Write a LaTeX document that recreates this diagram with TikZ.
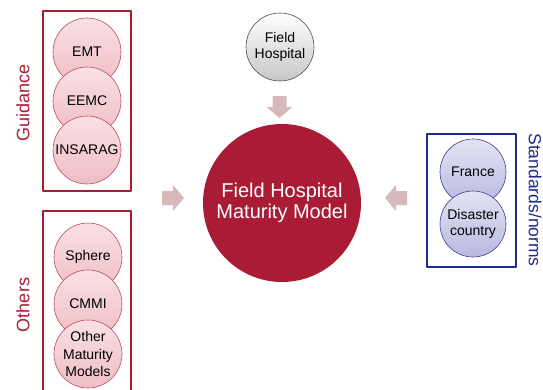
\documentclass[tikz,border=0pt]{standalone}
\usepackage{fontspec}
\setmainfont{Liberation Sans}
\definecolor{crimson}{HTML}{AA1C35}
\definecolor{rosefill}{HTML}{F9E1E4}
\definecolor{rosedark}{HTML}{EFBDC5}
\definecolor{roseline}{HTML}{C2475B}
\definecolor{navy}{HTML}{1E2A8E}
\definecolor{lilac}{HTML}{E3E3F4}
\definecolor{lilacdark}{HTML}{B9B9E0}
\definecolor{lilacline}{HTML}{3B3F8E}
\definecolor{arrowpink}{HTML}{D7B9BC}
\begin{document}
\begin{tikzpicture}[x=1pt,y=-1pt,line join=round]
	\clip (0,0) rectangle (543,389);
	
	\tikzset{
		bubble/.style={circle,draw=roseline,line width=.6pt,top color=rosefill,bottom color=rosedark,
			minimum size=68pt,inner sep=0pt,align=center,font=\fontsize{14}{16.5}\selectfont},
		bluebubble/.style={bubble,draw=lilacline,top color=lilac,bottom color=lilacdark,minimum size=66pt},
		groupbox/.style={draw=crimson,line width=1.2pt},
		grouplabel/.style={text=crimson,inner sep=0pt,font=\fontsize{18}{20}\selectfont},
		fatarrow/.pic={
			%------------mui ten (points to +x)
			\fill[arrowpink] (-11,-7) -- (0,-7) -- (0,-13) -- (11,0) -- (0,13) -- (0,7) -- (-11,7) -- cycle;
		}
	}
	
	%------------centre
	\node[circle,fill=crimson,minimum size=158pt,inner sep=0pt,align=center,text=white,
		font=\fontsize{20}{21}\selectfont] (fhmm) at (282,203) {Field Hospital\\Maturity Model};
	\node[circle,draw=black!70,line width=.6pt,top color=white,bottom color=black!22,minimum size=68pt,
		inner sep=0pt,align=center,font=\fontsize{14}{16}\selectfont] (fh) at (280,47) {Field\\Hospital};
	
	%------------Guidance
	\draw[groupbox] (43,11) rectangle (131,191);
	\node[grouplabel,rotate=90] (guid) at (23,103) {Guidance};
	\node[bubble] (emt) at (87,52) {EMT};
	\node[bubble] (eemc) at (87,101) {EEMC};
	\node[bubble] (insarag) at (87,150) {INSARAG};
	
	%------------Others
	\draw[groupbox] (43,211) rectangle (131,400);
	\node[grouplabel,rotate=90] (oth) at (23,305) {Others};
	\node[bubble] (sphere) at (88,257) {Sphere};
	\node[bubble] (cmmi) at (88,304) {CMMI};
	\node[bubble,font=\fontsize{14}{17.5}\selectfont] (omm) at (88,354) {Other\\Maturity\\Models};
	
	%------------Standards/norms
	\draw[draw=navy,line width=1.2pt] (427,134) rectangle (516,267);
	\node[text=navy,inner sep=0pt,font=\fontsize{17.5}{20}\selectfont,rotate=-90] (std) at (535,200) {Standards/norms};
	\node[bluebubble] (fr) at (473,172) {France};
	\node[bluebubble] (dc) at (473,224) {Disaster\\country};
	
	%------------arrows
	\path (279.5,107) pic[rotate=-90]{fatarrow};
	\path (173,198) pic{fatarrow};
	\path (396,198) pic[rotate=180]{fatarrow};
\end{tikzpicture}
\end{document}
